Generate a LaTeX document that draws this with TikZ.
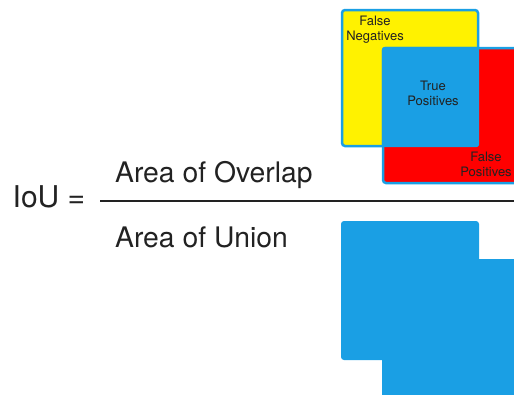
\documentclass[tikz,border=0pt]{standalone}
\usepackage{fontspec}
\setmainfont{TeX Gyre Heros}
\definecolor{iouBlue}{RGB}{26,159,228}
\definecolor{txt}{RGB}{34,34,34}
\begin{document}
\begin{tikzpicture}[x=1pt,y=-1pt,
  box/.style={draw=iouBlue, line width=2.5pt, rounded corners=3pt},
  blk/.style={fill=iouBlue, rounded corners=3pt},
  lbl/.style={font=\fontsize{13}{15.5}\selectfont, align=center, text=txt, inner sep=0pt},
  big/.style={font=\fontsize{28.3}{34}\selectfont, text=txt, inner sep=0pt, anchor=base west}]
\useasboundingbox (0,0) rectangle (514,394);
\clip (0,0) rectangle (514,394);
% top diagram
\draw[box, fill=yellow] (342,10) rectangle (478,146);
\draw[box, fill=red] (383,48) rectangle (540,183);
\fill[blk] (381.8,46.8) rectangle (479.2,147.2);
\node[lbl] (fn) at (375,29.5) {False\\Negatives};
\node[lbl] (tp) at (433,93.3) {True\\Positives};
\node[lbl] (fp) at (486,164.5) {False\\Positives};
% union
\fill[blk] (341,221) rectangle (479,360);
\fill[blk] (382,259) rectangle (540,400);
% formula
\node[big, font=\fontsize{30}{34}\selectfont] (iou) at (12.5,207.5) {IoU =};
\node[big] (num) at (115,182) {Area of Overlap};
\node[big] (den) at (115,247) {Area of Union};
\coordinate (barL) at (100,201);
\coordinate (barR) at (514,201);
\draw[txt, line width=2pt] (barL) -- (barR);
\end{tikzpicture}
\end{document}
